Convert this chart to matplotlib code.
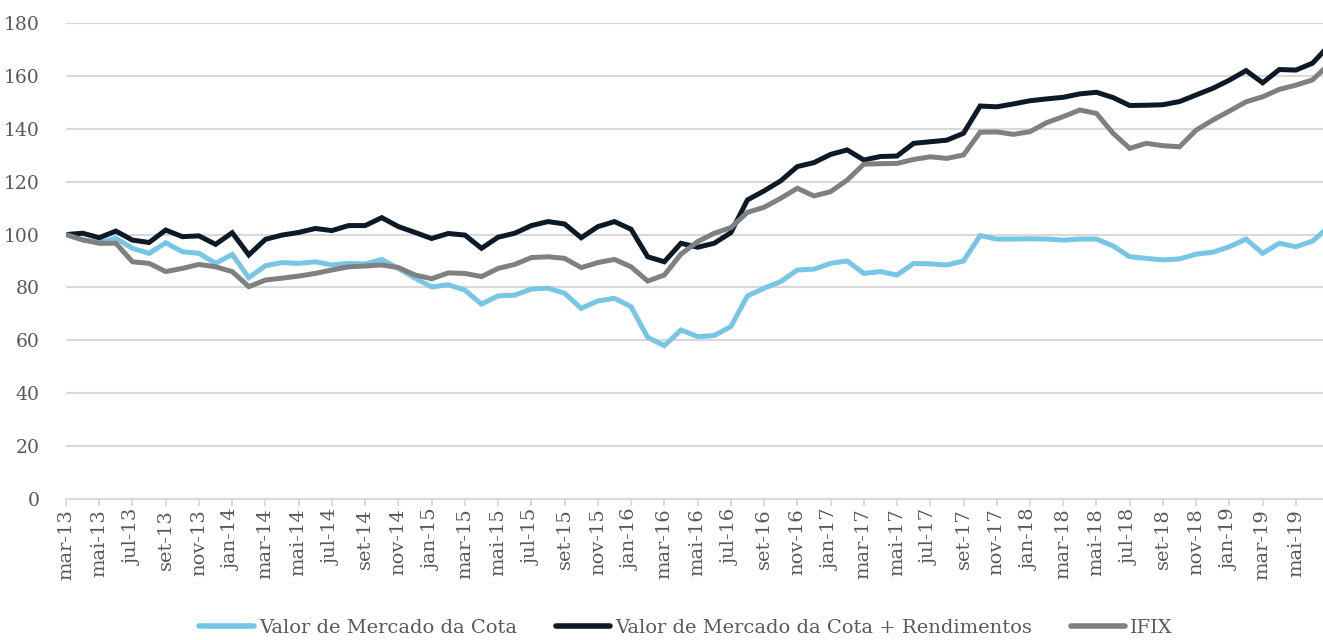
import matplotlib
matplotlib.use("Agg")
import matplotlib.pyplot as plt
import numpy as np

# month labels, mar-13 .. jul-19 (pt-BR abbreviations)
meses = ["jan", "fev", "mar", "abr", "mai", "jun", "jul", "ago", "set", "out", "nov", "dez"]
labels = []
for k in range(77):
    m = (2 + k) % 12
    a = 13 + (2 + k) // 12
    labels.append(f"{meses[m]}-{a}")

valor_mercado = [100, 98, 97, 98.6, 94.8, 92.9, 96.9, 93.5, 92.9, 89.1,
                 92.5, 83.7, 88.2, 89.4, 89.1, 89.7, 88.5, 89.1, 88.9, 90.6,
                 87.2, 83.5, 80.2, 81, 79, 73.7, 76.8, 77.1, 79.4, 79.7,
                 77.8, 72.1, 74.9, 75.9, 72.7, 61.1, 58, 63.9, 61.4, 61.8,
                 65.2, 76.8, 79.7, 82.2, 86.6, 86.9, 89.1, 90, 85.3, 86,
                 84.7, 89.1, 88.9, 88.5, 90, 99.6, 98.3, 98.3, 98.4, 98.3,
                 97.9, 98.3, 98.3, 95.7, 91.6, 91, 90.4, 90.8, 92.6, 93.3,
                 95.4, 98.3, 92.9, 96.7, 95.4, 97.5, 103]

valor_rend = [100, 100.5, 98.8, 101.3, 97.9, 97, 101.7, 99.2, 99.5, 96.3,
              100.7, 92.3, 98.2, 99.8, 100.8, 102.3, 101.5, 103.4, 103.4, 106.4,
              103, 100.8, 98.5, 100.4, 99.8, 94.8, 99, 100.5, 103.4, 104.9,
              104, 98.8, 103, 104.9, 102, 91.6, 89.7, 96.7, 95.2, 96.7,
              100.7, 113.1, 116.5, 120.3, 125.7, 127.2, 130.3, 132, 128.2, 129.5,
              129.7, 134.5, 135.1, 135.7, 138.3, 148.6, 148.3, 149.4, 150.6, 151.3,
              151.9, 153.2, 153.8, 151.8, 148.8, 148.9, 149.1, 150.3, 152.8, 155.3,
              158.4, 162, 157.4, 162.4, 162.2, 164.8, 171.5]

ifix = [100, 98, 96.7, 96.7, 89.7, 89.1, 86, 87.2, 88.7, 87.8,
        86, 80.3, 82.8, 83.5, 84.3, 85.3, 86.6, 87.8, 88.1, 88.5,
        87.5, 84.7, 83.3, 85.5, 85.3, 84.1, 87.2, 88.7, 91.3, 91.6,
        91, 87.5, 89.4, 90.6, 87.8, 82.4, 84.7, 92.6, 97.3, 100.5,
        102.6, 108.4, 110.3, 113.7, 117.5, 114.6, 116.2, 120.6, 126.6, 126.8,
        126.9, 128.4, 129.4, 128.8, 130.1, 138.7, 138.8, 137.9, 138.9, 142.3,
        144.6, 147.1, 145.8, 138.3, 132.6, 134.5, 133.6, 133.2, 139.5, 143.3,
        146.7, 150.2, 152.1, 154.9, 156.5, 158.5, 164.5]

series_names = ["Valor de Mercado da Cota", "Valor de Mercado da Cota + Rendimentos", "IFIX"]
colors = ["#76C6E6", "#0B1A26", "#808080"]

plt.rcParams["font.family"] = ["DejaVu Serif"]
text_color = "#595959"
grid_color = "#D9D9D9"

fig = plt.figure(figsize=(13.23, 6.4), dpi=100)
ax = fig.add_axes([66 / 1323, 1 - 499 / 640, 1 - 66 / 1323, (499 - 23) / 640])

x = np.arange(len(labels))
for vals, name, c in zip([valor_mercado, valor_rend, ifix], series_names, colors):
    ax.plot(x, vals, color=c, lw=3.6, label=name, solid_joinstyle="miter")

ax.set_ylim(0, 180)
ax.set_yticks(range(0, 181, 20))
ax.set_xlim(0, 75.63)
ax.set_xticks(x[:75:2])
ax.set_xticklabels(labels[:75:2], rotation=90, fontsize=14, color=text_color)
ax.tick_params(axis="y", length=0, pad=19, labelsize=13.5, labelcolor=text_color)
ax.tick_params(axis="x", length=5, width=1.3, color=grid_color, pad=2)

ax.grid(axis="y", color=grid_color, lw=1.5)
ax.set_axisbelow(True)
for s in ["top", "right", "left"]:
    ax.spines[s].set_visible(False)
ax.spines["bottom"].set_color(grid_color)
ax.spines["bottom"].set_linewidth(1.5)

leg = fig.legend(loc="center", bbox_to_anchor=(686 / 1323, 1 - 628 / 640), ncol=3,
                 frameon=False, fontsize=14, handlelength=2.8, handletextpad=0.25,
                 columnspacing=2.0, labelcolor=text_color)
for h in leg.get_lines():
    h.set_solid_capstyle("round")
    h.set_linewidth(4)

fig.savefig("out.png", dpi=100)
